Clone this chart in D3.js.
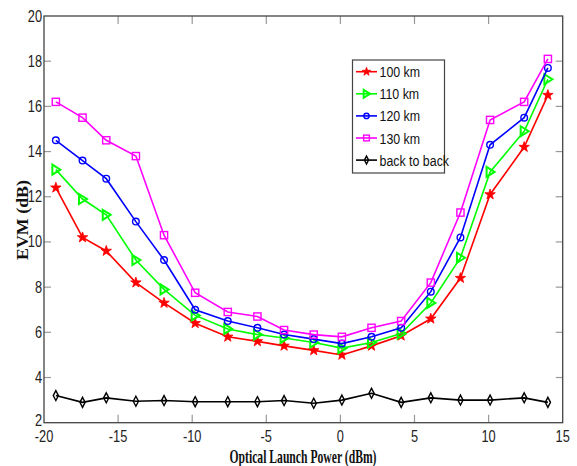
<!DOCTYPE html>
<html><head><meta charset="utf-8">
<script src="https://cdn.jsdelivr.net/npm/d3@7"></script>
<style>body{margin:0;background:#fff}svg{display:block}</style>
</head><body>
<svg id="c" width="577" height="466"></svg>
<script>
const powers = [-19.2,-17.4,-15.8,-13.8,-11.9,-9.8,-7.6,-5.6,-3.8,-1.8,0.1,2.1,4.1,6.1,8.1,10.1,12.4,14.0];
const evm100 = [12.4,10.2,9.6,8.2,7.3,6.4,5.8,5.6,5.4,5.2,5.0,5.4,5.85,6.6,8.4,12.1,14.2,16.5];
const evm110 = [13.2,11.9,11.2,9.2,7.9,6.75,6.15,5.9,5.75,5.55,5.3,5.55,5.95,7.3,9.3,13.1,14.9,17.2];
const evm120 = [14.5,13.6,12.8,10.9,9.2,7.0,6.5,6.2,5.9,5.7,5.5,5.8,6.2,7.8,10.2,14.3,15.5,17.7];
const evm130 = [16.2,15.5,14.5,13.8,10.3,7.75,6.9,6.7,6.1,5.9,5.8,6.2,6.5,8.2,11.3,15.4,16.2,18.1];
const evmB2B = [3.2,2.9,3.1,2.95,2.98,2.93,2.93,2.93,2.98,2.86,3.0,3.3,2.9,3.1,3.0,3.0,3.1,2.9];
const seriesNames = ["100 km","110 km","120 km","130 km","back to back"];
const xTicks = [-20,-15,-10,-5,0,5,10,15];
const yTicks = [2,4,6,8,10,12,14,16,18,20];

const series = [
  {name:seriesNames[0], vals:evm100, color:"#ff0000", marker:"star"},
  {name:seriesNames[1], vals:evm110, color:"#00ff00", marker:"tri"},
  {name:seriesNames[2], vals:evm120, color:"#0000ff", marker:"circle"},
  {name:seriesNames[3], vals:evm130, color:"#ff00ff", marker:"square"},
  {name:seriesNames[4], vals:evmB2B, color:"#000000", marker:"diamond"}
];

const L=44, R=562.7, T=16, B=422.7;
const x = d3.scaleLinear().domain([-20,15]).range([L,R]);
const y = d3.scaleLinear().domain([2,20]).range([B,T]);
const svg = d3.select("#c");
const axisCol = "#444";
const tickFont = "'Liberation Sans',Arial,sans-serif";
const SX = 0.8;

function label(sel, px, py, txt, anchor, size){
  return sel.append("text").attr("transform",`translate(${px},${py}) scale(${SX},1)`)
    .attr("text-anchor",anchor).attr("font-family",tickFont).attr("font-size",size).attr("fill","#222").text(txt);
}

const g = svg.append("g");
xTicks.forEach(t=>{
  if(t>-20 && t<15){
    g.append("line").attr("x1",x(t)).attr("x2",x(t)).attr("y1",B).attr("y2",B-8).attr("stroke","#999").attr("stroke-width",1.2);
    g.append("line").attr("x1",x(t)).attr("x2",x(t)).attr("y1",T).attr("y2",T+8).attr("stroke","#999").attr("stroke-width",1.2);
  }
  label(g, x(t), B+19, t, "middle", 16);
});
yTicks.forEach(t=>{
  if(t>2 && t<20){
    g.append("line").attr("x1",L).attr("x2",L+7).attr("y1",y(t)).attr("y2",y(t)).attr("stroke","#999").attr("stroke-width",1.2);
    g.append("line").attr("x1",R).attr("x2",R-7).attr("y1",y(t)).attr("y2",y(t)).attr("stroke","#999").attr("stroke-width",1.2);
  }
  label(g, L-2, y(t)+(t===2?3:5.5), t, "end", 16);
});
svg.append("rect").attr("x",L).attr("y",T).attr("width",R-L).attr("height",B-T)
  .attr("fill","none").attr("stroke",axisCol).attr("stroke-width",1.3);

function drawMarker(sel, type, cx, cy, color, s){
  s = s||1;
  if(type==="star"){
    const pts=[];
    for(let i=0;i<10;i++){const a=-Math.PI/2+i*Math.PI/5;const r=(i%2?2.2:5.5)*s;pts.push([cx+r*Math.cos(a),cy+r*Math.sin(a)]);}
    sel.append("polygon").attr("points",pts.map(p=>p.join(",")).join(" ")).attr("fill",color).attr("stroke",color).attr("stroke-width",0.8);
  } else if(type==="tri"){
    sel.append("polygon").attr("points",`${cx-3.5*s},${cy-5*s} ${cx+4.5*s},${cy} ${cx-3.5*s},${cy+5*s}`)
      .attr("fill","none").attr("stroke",color).attr("stroke-width",2);
  } else if(type==="circle"){
    sel.append("circle").attr("cx",cx).attr("cy",cy).attr("r",3.3*s).attr("fill","none").attr("stroke",color).attr("stroke-width",1.4);
  } else if(type==="square"){
    sel.append("rect").attr("x",cx-3.6*s).attr("y",cy-3.6*s).attr("width",7.2*s).attr("height",7.2*s).attr("fill","none").attr("stroke",color).attr("stroke-width",1.4);
  } else if(type==="diamond"){
    sel.append("polygon").attr("points",`${cx},${cy-5*s} ${cx+2.6*s},${cy} ${cx},${cy+5*s} ${cx-2.6*s},${cy}`)
      .attr("fill","none").attr("stroke",color).attr("stroke-width",1.4);
  }
}

const line = d3.line().x(d=>x(d[0])).y(d=>y(d[1]));
series.forEach(s=>{
  const data = powers.map((p,i)=>[p,s.vals[i]]);
  svg.append("path").datum(data).attr("d",line).attr("fill","none").attr("stroke",s.color).attr("stroke-width",1.6);
  const mg = svg.append("g");
  data.forEach(d=>drawMarker(mg,s.marker,x(d[0]),y(d[1]),s.color));
});

const lg = svg.append("g");
lg.append("rect").attr("x",352.5).attr("y",60).attr("width",92).attr("height",113).attr("fill","#fff").attr("stroke",axisCol).attr("stroke-width",1.2);
series.forEach((s,i)=>{
  const yy = 71.7 + i*22.1;
  lg.append("line").attr("x1",356).attr("x2",377).attr("y1",yy).attr("y2",yy).attr("stroke",s.color).attr("stroke-width",1.6);
  drawMarker(lg,s.marker,366.5,yy,s.color,0.8);
  label(lg, 379.5, yy+5.5, s.name, "start", 15.5).attr("fill","#111");
});

svg.append("text").attr("x",303).attr("y",463).attr("text-anchor","middle")
  .attr("font-family","'Liberation Serif','Times New Roman',serif").attr("font-weight","bold").attr("font-size",19)
  .attr("textLength",147).attr("lengthAdjust","spacingAndGlyphs").attr("fill","#111").text("Optical Launch Power (dBm)");
svg.append("text").attr("transform","translate(27.5,220) rotate(-90)").attr("text-anchor","middle")
  .attr("font-family","'Liberation Serif','Times New Roman',serif").attr("font-weight","bold").attr("font-size",16)
  .attr("textLength",80).attr("lengthAdjust","spacingAndGlyphs").attr("fill","#111").text("EVM (dB)");
</script>
</body></html>
